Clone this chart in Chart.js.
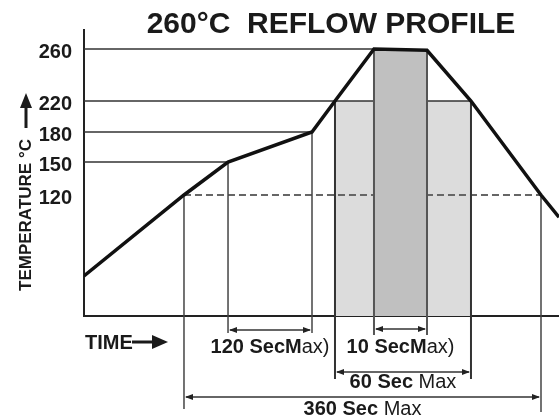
<!DOCTYPE html>
<html><head><meta charset="utf-8">
<script src="https://cdn.jsdelivr.net/npm/chart.js@4/dist/chart.umd.min.js"></script>
<style>html,body{margin:0;padding:0;background:#fff}#wrap{width:559px;height:418px;position:relative}</style>
</head><body><div id="wrap"><canvas id="c"></canvas></div>
<script>
// ---------------- data ----------------
const titleText = '260°C  REFLOW PROFILE';
const yAxisTitle = 'TEMPERATURE °C';
const xAxisTitle = 'TIME';
// profile vertices (schematic time units 0..100, temperature °C)
const times = [0, 21.05, 30.32, 48.0, 52.84, 61.05, 72.21, 81.47, 96.21, 100];
const temps = [25, 120, 150, 180, 220, 260, 259, 220, 120, 94];
const yTickValues = [120, 150, 180, 220, 260];
const refLevels = [260, 220, 180, 150];
const refEndTimes = [61.05, 81.47, 48.0, 30.32];
const soakLevel = 120;
const soakTimes = [21.05, 96.21];
const above220Times = [52.84, 81.47];
const peakTimes = [61.05, 72.21];
const spanFrom = [30.32, 61.05, 52.84, 21.05];
const spanTo = [48.0, 72.21, 81.47, 96.21];
const spanBold = ['120 SecM', '10 SecM', '60 Sec ', '360 Sec '];
const spanNormal = ['ax)', 'ax)', 'Max', 'Max'];

// ---------------- layout / style ----------------
const FONT = "'Liberation Sans', Arial, Helvetica, sans-serif";
const INK = '#1a1a1a';
// schematic (non-linear) temperature axis: value -> fraction of axis height
const Y_AXIS_VALUES = [0, 25, 120, 150, 180, 220, 260, 275];
const Y_AXIS_FRACTIONS = [0, 0.1399, 0.4231, 0.5385, 0.6434, 0.7517, 0.9336, 1];
const L = {
  dropExt: [93, 17, 17, 63, 19, 19, 63, 96],
  dropColor: ['#444', '#444', '#444', '#333', '#555', '#555', '#333', '#444'],
  dropWidth: [1.5, 1.5, 1.5, 2, 2, 2, 2, 1.5],
  spanArrowOff: [14, 13, 56, 81],
  spanLabelOff: [37, 37, 72, 99]
};

function toFrac(v) {
  const V = Y_AXIS_VALUES, F = Y_AXIS_FRACTIONS;
  let i = 1;
  while (i < V.length - 1 && v > V[i]) i++;
  const a = i - 1;
  return F[a] + (v - V[a]) * (F[i] - F[a]) / (V[i] - V[a]);
}
function fromFrac(f) {
  const V = Y_AXIS_VALUES, F = Y_AXIS_FRACTIONS;
  let i = 1;
  while (i < F.length - 1 && f > F[i]) i++;
  const a = i - 1;
  return V[a] + (f - F[a]) * (V[i] - V[a]) / (F[i] - F[a]);
}
class PiecewiseScale extends Chart.LinearScale {
  getPixelForValue(value) { return this.getPixelForDecimal(toFrac(value)); }
  getValueForPixel(pixel) { return fromFrac(this.getDecimalForPixel(pixel)); }
}
PiecewiseScale.id = 'piecewise';
PiecewiseScale.defaults = Chart.LinearScale.defaults;
Chart.register(PiecewiseScale);

function seg(x0, x1, y) { return [{x: x0, y: y}, {x: x1, y: y}]; }

const datasets = [
  { data: times.map((t, i) => ({x: t, y: temps[i]})), borderColor: '#111', borderWidth: 3.5, order: 0, borderJoinStyle: 'miter' }
];
refLevels.forEach((lv, i) => datasets.push({ data: seg(0, refEndTimes[i], lv), borderColor: '#333', borderWidth: 1.5, order: 20 }));
datasets.push({ data: seg(soakTimes[0], soakTimes[1], soakLevel), borderColor: '#666', borderWidth: 2, borderDash: [7, 4], order: 25 });
datasets.push({ data: seg(above220Times[0], above220Times[1], 220), borderWidth: 0, borderColor: 'rgba(0,0,0,0)', backgroundColor: '#dcdcdc', fill: 'start', order: 30 });
datasets.push({ data: seg(peakTimes[0], peakTimes[1], 260), borderWidth: 0, borderColor: 'rgba(0,0,0,0)', backgroundColor: '#c0c0c0', fill: 'start', order: 10 });

function arrowHead(ctx, x, y, dir, len, half) {
  ctx.beginPath();
  ctx.moveTo(x, y);
  ctx.lineTo(x - dir * len, y - half);
  ctx.lineTo(x - dir * len, y + half);
  ctx.closePath();
  ctx.fill();
}

const dropPlugin = {
  id: 'drops',
  beforeDatasetDraw(chart, args) {
    if (args.index !== 0) return;
    const ctx = chart.ctx, xs = chart.scales.x, ys = chart.scales.y, bottom = chart.chartArea.bottom;
    const dT = times.slice(1, -1), dV = temps.slice(1, -1);
    ctx.save();
    dT.forEach((t, i) => {
      const x = xs.getPixelForValue(t), y = ys.getPixelForValue(dV[i]);
      ctx.strokeStyle = L.dropColor[i];
      ctx.lineWidth = L.dropWidth[i];
      ctx.beginPath();
      ctx.moveTo(x, y);
      ctx.lineTo(x, bottom + L.dropExt[i]);
      ctx.stroke();
    });
    ctx.restore();
  }
};

const textPlugin = {
  id: 'texts',
  afterDraw(chart) {
    const ctx = chart.ctx, xs = chart.scales.x, ca = chart.chartArea;
    ctx.save();
    ctx.fillStyle = INK;
    ctx.strokeStyle = '#333';
    // title
    ctx.font = 'bold 30px ' + FONT;
    ctx.textAlign = 'center';
    ctx.textBaseline = 'alphabetic';
    ctx.fillText(titleText, 331, 33);
    // y title rotated
    ctx.save();
    ctx.translate(31, 215);
    ctx.rotate(-Math.PI / 2);
    ctx.font = 'bold 17px ' + FONT;
    ctx.textAlign = 'center';
    ctx.fillText(yAxisTitle, 0, 0);
    ctx.restore();
    // y arrow
    ctx.fillRect(24.5, 104, 3, 24);
    ctx.beginPath();
    ctx.moveTo(26, 93); ctx.lineTo(32, 108); ctx.lineTo(20, 108); ctx.closePath(); ctx.fill();
    // TIME label + arrow
    ctx.font = 'bold 20px ' + FONT;
    ctx.textAlign = 'left';
    ctx.fillText(xAxisTitle, 85, 349);
    ctx.fillRect(132, 340.5, 22, 3);
    arrowHead(ctx, 168, 342, 1, 16, 7);
    // spans
    ctx.lineWidth = 1.5;
    spanFrom.forEach((f, i) => {
      const x0 = xs.getPixelForValue(f), x1 = xs.getPixelForValue(spanTo[i]);
      const y = ca.bottom + L.spanArrowOff[i];
      ctx.beginPath(); ctx.moveTo(x0 + 2, y); ctx.lineTo(x1 - 2, y); ctx.stroke();
      ctx.fillStyle = '#222';
      arrowHead(ctx, x0 + 1, y, -1, 8, 3);
      arrowHead(ctx, x1 - 1, y, 1, 8, 3);
      ctx.fillStyle = INK;
      ctx.font = 'bold 20px ' + FONT;
      const wb = ctx.measureText(spanBold[i]).width;
      ctx.font = '20px ' + FONT;
      const wn = ctx.measureText(spanNormal[i]).width;
      const cx = (x0 + x1) / 2;
      const sx = cx - (wb + wn) / 2;
      const by = ca.bottom + L.spanLabelOff[i];
      ctx.textAlign = 'left';
      ctx.font = 'bold 20px ' + FONT;
      ctx.fillText(spanBold[i], sx, by);
      ctx.font = '20px ' + FONT;
      ctx.fillText(spanNormal[i], sx + wb, by);
    });
    ctx.restore();
  }
};

new Chart(document.getElementById('c'), {
  type: 'line',
  data: { datasets: datasets },
  options: {
    responsive: true,
    maintainAspectRatio: false,
    animation: false,
    events: [],
    layout: { padding: { left: 0, right: 0, top: 30, bottom: 102 } },
    elements: { point: { radius: 0 }, line: { tension: 0, fill: false, borderCapStyle: 'butt' } },
    plugins: { legend: { display: false }, tooltip: { enabled: false }, title: { display: false } },
    scales: {
      x: {
        type: 'linear', min: 0, max: 100,
        ticks: { display: false },
        grid: { display: false, drawTicks: false },
        border: { display: true, color: '#222', width: 2 },
        afterFit(s) { s.height = 0; }
      },
      y: {
        type: 'piecewise', min: 0, max: 275,
        afterBuildTicks(s) { s.ticks = yTickValues.map(v => ({ value: v })); },
        ticks: {
          font: { family: FONT, size: 20, weight: 'bold' }, color: INK,
          padding: 12, labelOffset: 3, autoSkip: false,
          callback: v => String(v)
        },
        grid: { display: false, drawTicks: false },
        border: { display: true, color: '#222', width: 2 },
        afterFit(s) { s.width = 84; }
      }
    }
  },
  plugins: [dropPlugin, textPlugin]
});
</script>
</body></html>
